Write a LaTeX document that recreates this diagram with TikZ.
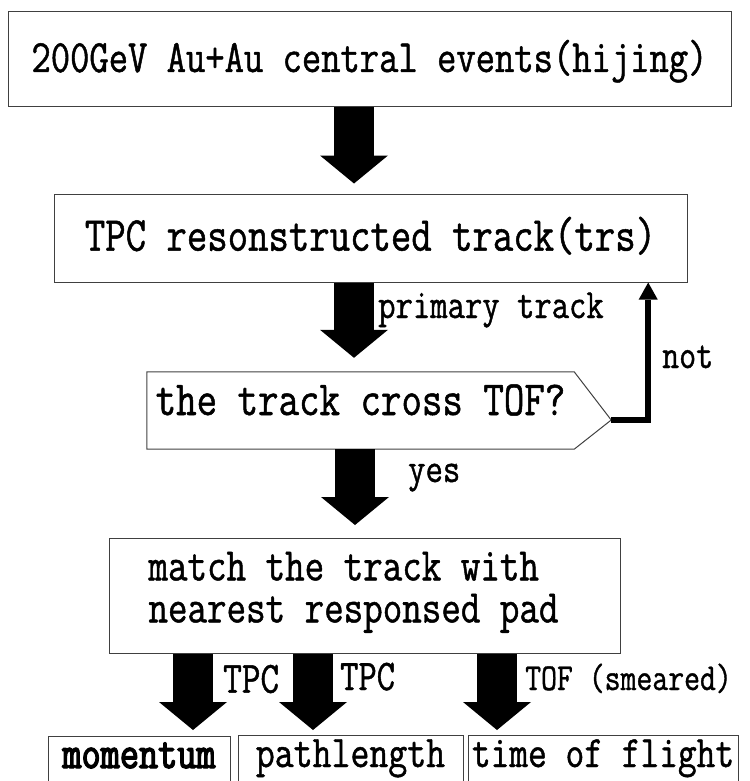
\documentclass[tikz,border=0pt]{standalone}
\usepackage{fontspec}
\setmainfont[FakeStretch=0.81,FakeBold=1]{Latin Modern Mono}
\usetikzlibrary{arrows.meta,calc}
\newcommand{\sz}[1]{\fontsize{#1pt}{42pt}\selectfont}

\begin{document}
\begin{tikzpicture}[x=1pt,y=-1pt]
\tikzstyle{flowbox} = [draw=black!75,line width=1pt,inner sep=0pt]
\tikzstyle{bigarrow} = [line width=40pt,-{Triangle[width=68pt,length=28pt,line width=0pt]}]
\tikzstyle{backarrow} = [line width=6pt,-{Triangle[width=19pt,length=17pt,line width=0pt]}]
\tikzstyle{lbl} = [anchor=base west,inner sep=0pt]

\useasboundingbox (0,0) rectangle (749,781);

% boxes
\node[flowbox,anchor=base,minimum width=723pt,text height=60.5pt,text depth=35pt] (events) at (369.5,72) {\sz{46.3}200GeV Au+Au central events(hijing)};
\node[flowbox,anchor=base,minimum width=633pt,text height=56.7pt,text depth=31.3pt] (trs) at (370.5,250.7) {\sz{48.9}TPC resonstructed track(trs)};
\node[inner sep=0pt,anchor=base,minimum width=427pt,text height=43pt,text depth=34pt] (cross) at (360.5,415) {\sz{49.1}the track cross TOF?};
\coordinate (tip) at ($(cross.east)+(37,9.5)$);
\draw[draw=black!75,line width=1pt] (cross.north west) -- (cross.north east) -- (tip) -- (cross.south east) -- (cross.south west) -- cycle;
\node[flowbox,anchor=north west,minimum width=511pt,minimum height=115pt] (match) at (109,538) {\sz{46.8}\raisebox{3pt}[\height][\depth]{\makebox[433pt][l]{\begin{tabular}{@{}l@{}}match the track with\\nearest responsed pad\end{tabular}}}};
\node[flowbox,anchor=north,minimum width=182pt,text height=31.5pt,text depth=30pt] (mom) at (139,736) {\sz{45.9}\addfontfeature{FakeBold=3}momentum};
\node[flowbox,anchor=north,minimum width=225pt,text height=31.5pt,text depth=30pt] (path) at (350.5,735) {\sz{45.4}pathlength};
\node[flowbox,anchor=north,minimum width=270pt,text height=31.5pt,text depth=30pt] (flight) at (603,735) {\sz{44.9}time of flight};

% arrows
\coordinate (c1) at (354,0);
\coordinate (c2) at (355,0);
\coordinate (m1) at (193,0);
\coordinate (m2) at (313,0);
\coordinate (m3) at (497,0);
\draw[bigarrow] (events.south -| c1) -- ($(trs.north -| c1)+(0,-10)$);
\draw[bigarrow] (trs.south -| c1) -- ($(cross.north -| c1)+(0,-14)$);
\draw[bigarrow] (cross.south -| c2) -- ($(match.north -| c2)+(0,-13)$);
\draw[bigarrow] (match.south -| m1) -- ($(mom.north -| m1)+(0,-6)$);
\draw[bigarrow] (match.south -| m2) -- ($(path.north -| m2)+(0,-5)$);
\draw[bigarrow] (match.south -| m3) -- ($(flight.north -| m3)+(0,-5)$);
\coordinate (turn) at ($(tip)+(37,0)$);
\draw[backarrow] (tip) -- (turn) -- (turn |- trs.south);

% labels
\node[lbl] (primary) at (378,318) {\sz{41.6}primary track};
\node[lbl] (no) at (662,368) {\sz{40.7}not};
\node[lbl] (yes) at (408,482) {\sz{41.6}yes};
\node[lbl] (tpcA) at (223,692.7) {\sz{44.7}TPC};
\node[lbl] (tpcB) at (340,690) {\sz{43.8}TPC};
\node[lbl] (tofs) at (525,690) {\sz{38.1}TOF (smeared)};
\end{tikzpicture}
\end{document}
